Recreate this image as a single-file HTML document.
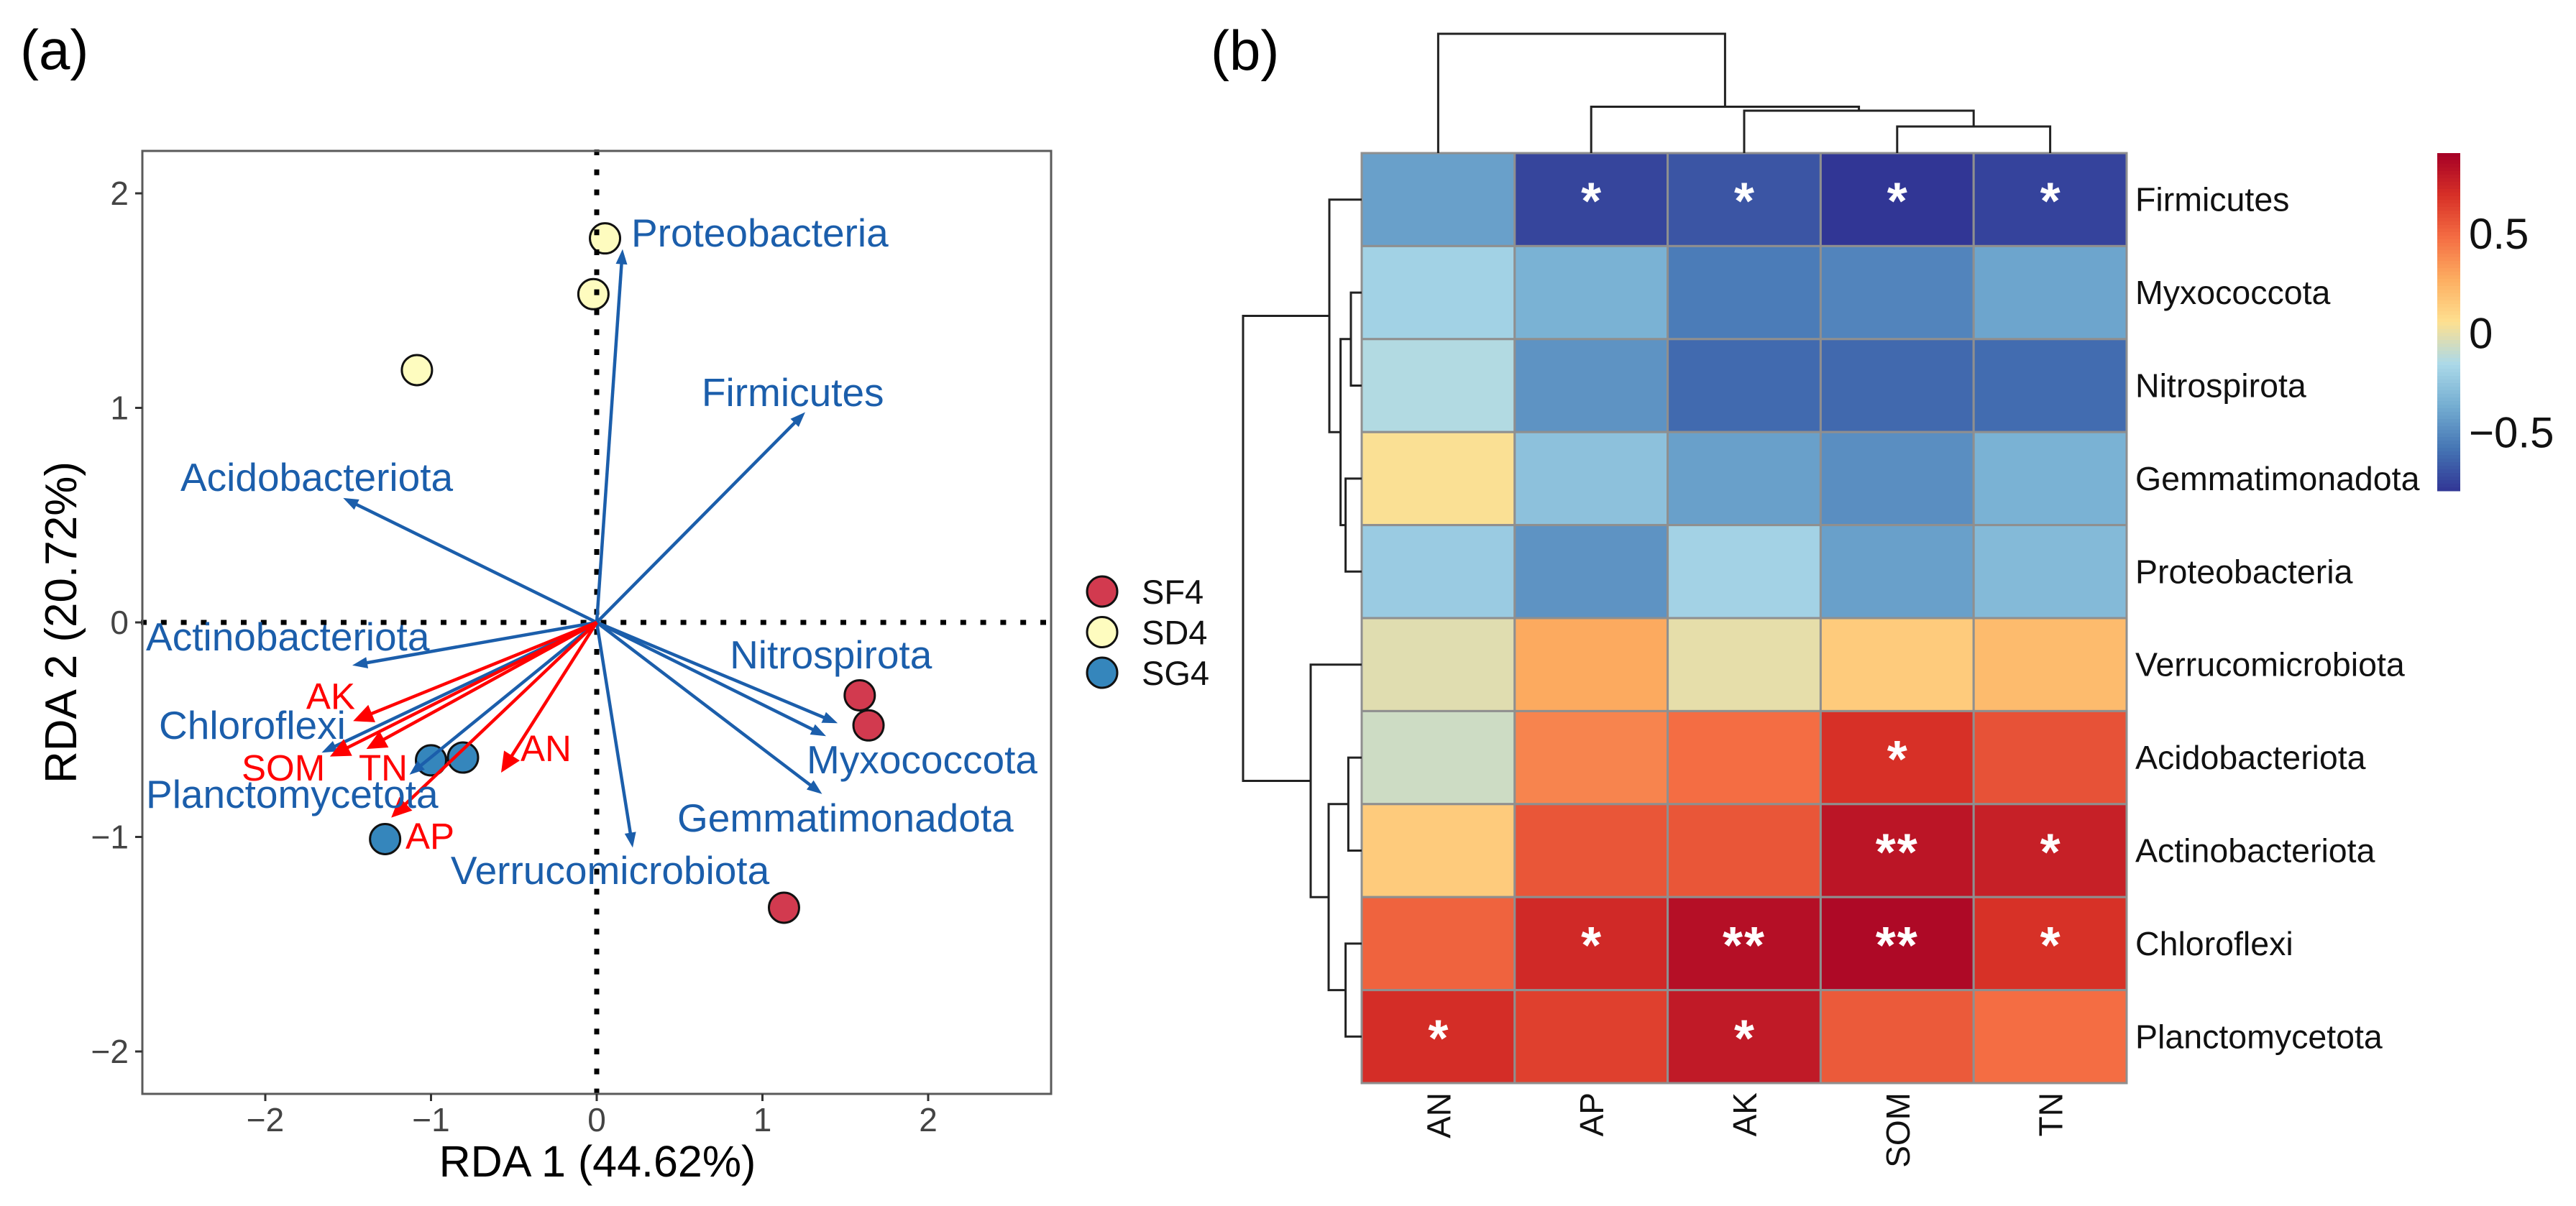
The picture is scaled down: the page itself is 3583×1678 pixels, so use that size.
<!DOCTYPE html>
<html lang="en">
<head>
<meta charset="utf-8">
<title>RDA biplot and correlation heatmap</title>
<style>
html,body{margin:0;padding:0;background:#fff;}
svg{display:block;font-family:"Liberation Sans",Arial,sans-serif;}
</style>
</head>
<body>
<svg id="fig" xmlns="http://www.w3.org/2000/svg" width="3583" height="1678" viewBox="0 0 3583 1678">
  <rect x="0" y="0" width="3583" height="1678" fill="#fff"/>
  <text x="28" y="96" font-size="78" fill="#000">(a)</text>
  <text x="1684" y="97" font-size="78" fill="#000">(b)</text>
  <g id="rda"></g>
  <text x="831" y="1637" font-size="61" text-anchor="middle" fill="#000">RDA 1 (44.62%)</text>
  <text transform="translate(106,866) rotate(-90)" font-size="62" text-anchor="middle" fill="#000">RDA 2 (20.72%)</text>
  <g id="heat"></g>
</svg>
<script>
// ---------- Panel (a) data ----------
const sf4X = [1.587, 1.64, 1.13];
const sf4Y = [-0.34, -0.48, -1.33];
const sd4X = [0.05, -0.02, -1.085];
const sd4Y = [1.79, 1.53, 1.176];
const sg4X = [-0.807, -1.0, -1.277];
const sg4Y = [-0.63, -0.643, -1.01];
const groupNames = ['SF4', 'SD4', 'SG4'];

const speciesNames = ['Proteobacteria','Firmicutes','Acidobacteriota','Actinobacteriota','Nitrospirota','Chloroflexi','Myxococcota','Planctomycetota','Gemmatimonadota','Verrucomicrobiota'];
const speciesX = [0.156, 1.258, -1.53, -1.475, 1.454, -1.66, 1.384, -1.13, 1.36, 0.217];
const speciesY = [1.74, 0.98, 0.58, -0.20, -0.47, -0.607, -0.53, -0.71, -0.80, -1.05];
const speciesLabelX = [0.208, 0.633, -2.512, -2.72, 0.803, -2.642, 1.267, -2.72, 0.486, -0.881];
const speciesLabelY = [1.752, 1.008, 0.613, -0.131, -0.214, -0.543, -0.704, -0.864, -0.975, -1.219];

const envNames = ['AK','SOM','TN','AN','AP'];
const envX = [-1.47, -1.61, -1.39, -0.577, -1.24];
const envY = [-0.46, -0.625, -0.59, -0.70, -0.91];
const envLabelX = [-1.753, -2.143, -1.436, -0.46, -1.154];
const envLabelY = [-0.404, -0.737, -0.737, -0.647, -1.055];

const xTicks = [-2, -1, 0, 1, 2];
const yTicks = [2, 1, 0, -1, -2];

// ---------- Panel (b) data ----------
const heatCols = ['AN','AP','AK','SOM','TN'];
const heatRows = ['Firmicutes','Myxococcota','Nitrospirota','Gemmatimonadota','Proteobacteria','Verrucomicrobiota','Acidobacteriota','Actinobacteriota','Chloroflexi','Planctomycetota'];
const heatValues = [
  [-0.424,-0.75,-0.695,-0.80,-0.755],
  [-0.197,-0.35,-0.56,-0.53,-0.407],
  [-0.145,-0.475,-0.625,-0.628,-0.617],
  [0.04,-0.279,-0.425,-0.493,-0.35],
  [-0.228,-0.475,-0.194,-0.425,-0.313],
  [-0.027,0.275,-0.011,0.139,0.207],
  [-0.075,0.40,0.475,0.6875,0.569],
  [0.139,0.555,0.555,0.807,0.76],
  [0.51,0.717,0.832,0.862,0.685],
  [0.70,0.632,0.785,0.54,0.475]
];
const heatStars = [
  ['','*','*','*','*'],
  ['','','','',''],
  ['','','','',''],
  ['','','','',''],
  ['','','','',''],
  ['','','','',''],
  ['','','','*',''],
  ['','','','**','*'],
  ['','*','**','**','*'],
  ['*','','*','','']
];
const paletteStops = [-0.8,-0.5875,-0.375,-0.1625,0.05,0.2625,0.475,0.6875,0.9];
const paletteHex = ['#313695','#4575b4','#74add1','#abd9e9','#fee090','#fdae61','#f46d43','#d73027','#a50026'];
const legendTicks = [0.5, 0, -0.5];
const legendTickLabels = ['0.5','0','\u22120.5'];

// Dendrogram trees: [height, left, right]; a number leaf is a row / column index.
const colTree = [2.0, 0, [0.777, 1, [0.711, 2, [0.446, 3, 4]]]];
const rowTree = [1.988,
  [0.542, 0, [0.354, [0.181, 1, 2], [0.27, 3, 4]]],
  [0.855, 5, [0.554, [0.224, 6, 7], [0.27, 8, 9]]]
];

// ---------- Helpers ----------
const NS = 'http://www.w3.org/2000/svg';
function make(tag, parent, attrs) {
  const el = document.createElementNS(NS, tag);
  for (const k in attrs) el.setAttribute(k, attrs[k]);
  parent.appendChild(el);
  return el;
}

// ---------- Panel (a) ----------
const rda = document.getElementById('rda');
const plotL = 198, plotR = 1462, plotT = 210, plotB = 1522;
const xScale = v => 830 + v * 230.5;
const yScale = v => 866 - v * 298.5;

function drawPoint(parent, cx, cy, fill, name) {
  const c = make('circle', parent, {cx: cx, cy: cy, r: 21, fill: fill, stroke: '#111', 'stroke-width': 3});
  
  
}
sf4X.forEach((v, i) => drawPoint(rda, xScale(v), yScale(sf4Y[i]), '#d23a4f', 'point-sf4'));
sd4X.forEach((v, i) => drawPoint(rda, xScale(v), yScale(sd4Y[i]), '#fefcbf', 'point-sd4'));
sg4X.forEach((v, i) => drawPoint(rda, xScale(v), yScale(sg4Y[i]), '#3586bc', 'point-sg4'));

const zeroH = make('line', rda, {x1: 196, x2: plotR, y1: yScale(0), y2: yScale(0), stroke: '#000', 'stroke-width': 7, 'stroke-dasharray': '8 19.8'});


const zeroV = make('line', rda, {x1: xScale(0), x2: xScale(0), y1: 208, y2: plotB, stroke: '#000', 'stroke-width': 7, 'stroke-dasharray': '8 19.8'});



function drawArrow(parent, vx, vy, color, width, L, W, name) {
  const x0 = xScale(0), y0 = yScale(0), x1 = xScale(vx), y1 = yScale(vy);
  const len = Math.hypot(x1 - x0, y1 - y0), ux = (x1 - x0) / len, uy = (y1 - y0) / len;
  const bx = x1 - ux * L, by = y1 - uy * L;
  const g = make('g', parent, {});
  
  
  make('line', g, {x1: x0, y1: y0, x2: bx + ux * 4, y2: by + uy * 4, stroke: color, 'stroke-width': width});
  make('polygon', g, {points: `${x1},${y1} ${bx - uy * W},${by + ux * W} ${bx + uy * W},${by - ux * W}`, fill: color});
}
speciesX.forEach((v, i) => drawArrow(rda, v, speciesY[i], '#1b5eab', 4.5, 21, 8, 'arrow-' + speciesNames[i].toLowerCase()));
envX.forEach((v, i) => drawArrow(rda, v, envY[i], '#ff0000', 4.5, 28, 13, 'arrow-' + envNames[i].toLowerCase()));

speciesNames.forEach((n, i) => {
  const t = make('text', rda, {x: xScale(speciesLabelX[i]), y: yScale(speciesLabelY[i]), 'font-size': 55, fill: '#1b5eab'});
  t.textContent = n;
  
  
});
envNames.forEach((n, i) => {
  const t = make('text', rda, {x: xScale(envLabelX[i]), y: yScale(envLabelY[i]), 'font-size': 51, fill: '#ff0000'});
  t.textContent = n;
  
  
});

const frame = make('rect', rda, {x: plotL, y: plotT, width: plotR - plotL, height: plotB - plotT, fill: 'none', stroke: '#5a5a5a', 'stroke-width': 3});



xTicks.forEach(v => {
  const m = make('line', rda, {x1: xScale(v), x2: xScale(v), y1: plotB, y2: plotB + 10, stroke: '#333', 'stroke-width': 3});
  
  
  const t = make('text', rda, {x: xScale(v), y: 1574, 'font-size': 46, fill: '#444', 'text-anchor': 'middle'});
  t.textContent = v < 0 ? '\u2212' + (-v) : String(v);
  
  
});
yTicks.forEach(v => {
  const m = make('line', rda, {x1: plotL - 10, x2: plotL, y1: yScale(v), y2: yScale(v), stroke: '#333', 'stroke-width': 3});
  
  
  const t = make('text', rda, {x: 179, y: yScale(v) + 16, 'font-size': 46, fill: '#444', 'text-anchor': 'end'});
  t.textContent = v < 0 ? '\u2212' + (-v) : String(v);
  
  
});

const groupFills = ['#d23a4f', '#fefcbf', '#3586bc'];
groupNames.forEach((n, i) => {
  const cy = 823 + i * 56.5;
  drawPoint(rda, 1533, cy, groupFills[i], 'legend-marker-' + n.toLowerCase());
  const t = make('text', rda, {x: 1588, y: cy + 17, 'font-size': 47, fill: '#111'});
  t.textContent = n;
  
  
});

// ---------- Panel (b) ----------
const heat = document.getElementById('heat');
const cellL = 1894, cellT = 213, cellW = 212.8, cellH = 129.4;
const colCenter = i => cellL + cellW * (i + 0.5);
const rowCenter = i => cellT + cellH * (i + 0.5);

function hexToRgb(h) {
  return [parseInt(h.slice(1, 3), 16), parseInt(h.slice(3, 5), 16), parseInt(h.slice(5, 7), 16)];
}
function colorOf(v) {
  const s = paletteStops;
  if (v <= s[0]) return paletteHex[0];
  if (v >= s[s.length - 1]) return paletteHex[s.length - 1];
  let i = 0;
  while (v > s[i + 1]) i++;
  const f = (v - s[i]) / (s[i + 1] - s[i]);
  const a = hexToRgb(paletteHex[i]), b = hexToRgb(paletteHex[i + 1]);
  return 'rgb(' + a.map((c, k) => Math.round(c + (b[k] - c) * f)).join(',') + ')';
}

heatValues.forEach((row, r) => {
  row.forEach((v, c) => {
    const cell = make('rect', heat, {x: cellL + c * cellW, y: cellT + r * cellH, width: cellW, height: cellH, fill: colorOf(v), stroke: '#8f8f8f', 'stroke-width': 3});
    
    
  });
});
heatStars.forEach((row, r) => {
  row.forEach((s, c) => {
    if (!s) return;
    const t = make('text', heat, {x: colCenter(c), y: rowCenter(r) + 27, 'font-size': 72, 'font-weight': 'bold', 'letter-spacing': s.length > 1 ? 2 : 0, fill: '#fff', 'text-anchor': 'middle'});
    t.textContent = s;
    
    
  });
});
heatRows.forEach((n, r) => {
  const t = make('text', heat, {x: 2970, y: rowCenter(r) + 16, 'font-size': 46.5, fill: '#111'});
  t.textContent = n;
  
  
});
heatCols.forEach((n, c) => {
  const t = make('text', heat, {transform: `translate(${colCenter(c) + 17},1520) rotate(-90)`, 'font-size': 46, fill: '#111', 'text-anchor': 'end'});
  t.textContent = n;
  
  
});

// Dendrograms
const dendroUnit = 83;
const dendroTop = make('g', heat, {fill: 'none', stroke: '#222', 'stroke-width': 3});


const dendroLeft = make('g', heat, {fill: 'none', stroke: '#222', 'stroke-width': 3});



function layoutCol(node) {
  if (typeof node === 'number') return {p: colCenter(node), h: 0};
  const a = layoutCol(node[1]), b = layoutCol(node[2]);
  const y = cellT - node[0] * dendroUnit;
  make('path', dendroTop, {d: `M${a.p},${cellT - a.h * dendroUnit} V${y} H${b.p} V${cellT - b.h * dendroUnit}`});
  return {p: (a.p + b.p) / 2, h: node[0]};
}
function layoutRow(node) {
  if (typeof node === 'number') return {p: rowCenter(node), h: 0};
  const a = layoutRow(node[1]), b = layoutRow(node[2]);
  const x = cellL - node[0] * dendroUnit;
  make('path', dendroLeft, {d: `M${cellL - a.h * dendroUnit},${a.p} H${x} V${b.p} H${cellL - b.h * dendroUnit}`});
  return {p: (a.p + b.p) / 2, h: node[0]};
}
layoutCol(colTree);
layoutRow(rowTree);

// Colour legend
const barX = 3390, barW = 32, barTop = 213, barBottom = 683;
const legendValue = y => 0.9 - (y - barTop) / (barBottom - barTop) * 1.7;
const legendY = v => barTop + (0.9 - v) / 1.7 * (barBottom - barTop);
const legendGroup = make('g', heat, {});


for (let y = barTop; y < barBottom; y += 5) {
  make('rect', legendGroup, {x: barX, y: y, width: barW, height: 5.5, fill: colorOf(legendValue(y + 2.5))});
}
legendTicks.forEach((v, i) => {
  const t = make('text', legendGroup, {x: 3434, y: legendY(v) + 22.5, 'font-size': 60, fill: '#111'});
  t.textContent = legendTickLabels[i];
  
  
});
</script>
</body>
</html>
